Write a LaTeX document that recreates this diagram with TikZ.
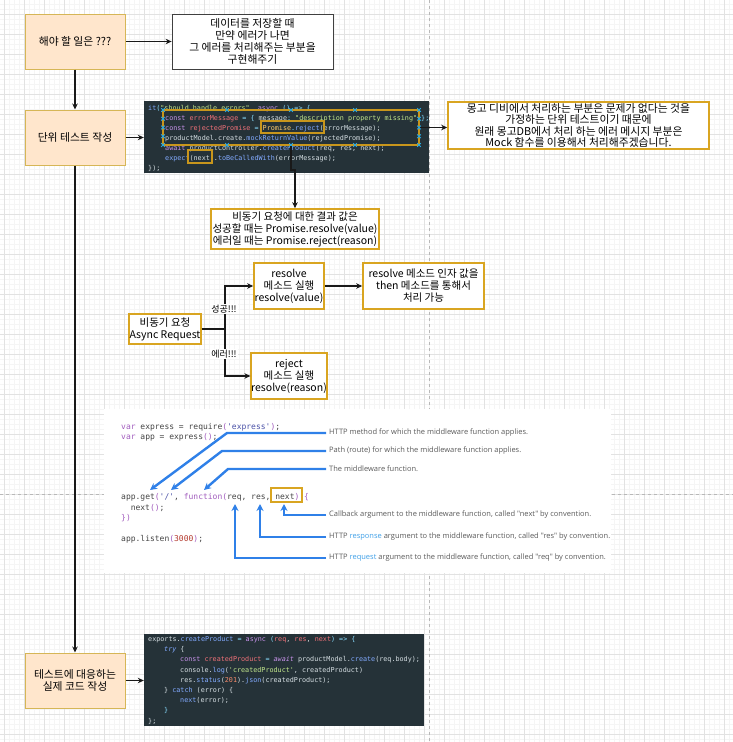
\documentclass[tikz,border=0pt]{standalone}
\usepackage{fontspec}
\setmainfont{Noto Sans CJK KR}
\setmonofont{DejaVu Sans Mono}
\newfontfamily\osans{Open Sans}
\usetikzlibrary{arrows.meta}
\definecolor{gridmaj}{HTML}{E2E2E2}
\definecolor{gridmin}{HTML}{F5F5F5}
\definecolor{pagebrk}{HTML}{B8B8B8}
\definecolor{peach}{HTML}{FFE6CC}
\definecolor{peachline}{HTML}{D6B656}
\definecolor{gold}{HTML}{D9A521}
\definecolor{codebg}{HTML}{253238}
\definecolor{ctxt}{HTML}{D5DEE2}
\definecolor{ckw}{HTML}{C792EA}
\definecolor{cvar}{HTML}{F07178}
\definecolor{cstr}{HTML}{C3E88D}
\definecolor{cfn}{HTML}{82AAFF}
\definecolor{ccls}{HTML}{FFCB6B}
\definecolor{cpun}{HTML}{89DDFF}
\definecolor{cnum}{HTML}{F78C6C}
\definecolor{handle}{HTML}{29A8E0}
\definecolor{selbox}{HTML}{C8961C}
\definecolor{eblue}{HTML}{2F80E8}
\definecolor{elight}{HTML}{3FA0E8}
\definecolor{etxt}{HTML}{444444}
\definecolor{ekw}{HTML}{A25DBE}
\definecolor{estr}{HTML}{4B52A8}
\definecolor{enum}{HTML}{B43A2E}
\definecolor{elbl}{HTML}{5A5A5A}
\newcommand\tkKw[1]{\textcolor{ckw}{#1}}
\newcommand\tkVar[1]{\textcolor{cvar}{#1}}
\newcommand\tkStr[1]{\textcolor{cstr}{#1}}
\newcommand\tkFn[1]{\textcolor{cfn}{#1}}
\newcommand\tkCls[1]{\textcolor{ccls}{#1}}
\newcommand\tkPun[1]{\textcolor{cpun}{#1}}
\newcommand\tkNum[1]{\textcolor{cnum}{#1}}
\newcommand\tkEkw[1]{\textcolor{ekw}{#1}}
\newcommand\tkEs[1]{\textcolor{estr}{#1}}
\newcommand\tkEn[1]{\textcolor{enum}{#1}}
\newcommand\tkLb[1]{\textcolor{elight}{#1}}
\begin{document}
\begin{tikzpicture}[x=1pt,y=-1pt,
  peachbox/.style={draw=peachline, fill=peach, line width=1pt, align=center, font=\fontsize{10.8}{12.5}\selectfont, inner sep=0pt},
  goldbox/.style={draw=gold, fill=white, line width=1.6pt, align=center, font=\fontsize{10.5}{12}\selectfont, inner sep=0pt},
  plainbox/.style={draw=black!75, fill=white, line width=0.8pt, align=center, font=\fontsize{10.8}{12}\selectfont, inner sep=0pt},
  arr/.style={draw=black!90, line width=1.1pt, -{Stealth[length=6pt,width=5.5pt]}},
  codebox/.style={fill=codebg, draw=none, inner sep=0pt},
  cl/.style={anchor=base west, inner sep=0pt, text=ctxt, font=\ttfamily\fontsize{6.75}{8}\selectfont},
  el/.style={anchor=base west, inner sep=0pt, text=etxt, font=\ttfamily\fontsize{8}{9}\selectfont},
  lbl/.style={anchor=west, inner sep=0pt, text=elbl, font=\osans\fontsize{7.5}{9}\selectfont},
  barr/.style={draw=eblue, line width=2.4pt, -{Stealth[length=7pt,width=7pt]}},
  edgelbl/.style={fill=white, inner sep=1pt, font=\fontsize{9}{10}\selectfont}]
\useasboundingbox (0,0) rectangle (733,742);
\fill[white] (0,0) rectangle (733,742);
% grid
\foreach \gx in {4,9,...,733} \draw[gridmin, line width=0.4pt] (\gx,0) -- (\gx,742);
\foreach \gy in {4,9,...,742} \draw[gridmin, line width=0.4pt] (0,\gy) -- (733,\gy);
\foreach \gx in {4,24,...,733} \draw[gridmaj, line width=0.7pt] (\gx,0) -- (\gx,742);
\foreach \gy in {14,34,...,742} \draw[gridmaj, line width=0.7pt] (0,\gy) -- (733,\gy);
% page breaks
\draw[pagebrk, dashed, line width=0.7pt, dash pattern=on 3pt off 3pt] (429,0) -- (429,742);
\draw[pagebrk, dashed, line width=0.7pt, dash pattern=on 3pt off 3pt] (0,494) -- (733,494);

% top boxes
\node[peachbox, minimum width=100pt, minimum height=55pt] (b1) at (75,41.5) {해야 할 일은 ???};
\node[plainbox, minimum width=161pt, minimum height=55pt] (b2) at (252.5,41.5) {데이터를 저장할 때\\만약 에러가 나면\\그 에러를 처리해주는 부분을\\구현해주기};
\node[peachbox, minimum width=100pt, minimum height=55pt] (b3) at (75,137.5) {단위 테스트 작성};

% code 1
\node[codebox, minimum width=285pt, minimum height=72pt] (code1) at (286.5,137) {};
\node[cl] (c1l1) at (148,110) {\tkFn{it}\tkPun{(}\tkStr{"should handle errors"}\tkPun{,} \tkKw{async} \tkPun{() => \{}};
\node[cl] (c1l2) at (165,120) {\tkKw{const} \tkVar{errorMessage} \tkPun{=} \tkPun{\{} message\tkPun{:} \tkStr{"description property missing"} \tkPun{\};}};
\node[cl] (c1l3) at (165,130) {\tkKw{const} \tkVar{rejectedPromise} \tkPun{=} \tkCls{Promise}\tkPun{.}\tkFn{reject}(errorMessage);};
\node[cl] (c1l4) at (165,140) {productModel.create.\tkFn{mockReturnValue}(rejectedPromise);};
\node[cl] (c1l5) at (165,150) {\tkKw{await} productController.\tkFn{createProduct}(req, res, next);};
\node[cl] (c1l6) at (165,160) {\tkFn{expect}(next).\tkFn{toBeCalledWith}(errorMessage);};
\node[cl] (c1l7) at (148,170) {\});};
% selection overlay
\node[draw=selbox, line width=1.3pt, minimum width=256pt, minimum height=35pt, inner sep=0pt] (sel) at (291,127.5) {};
\node[draw=selbox, line width=1.2pt, minimum width=63pt, minimum height=12pt, inner sep=0pt] (selp) at (292.5,127) {};
\node[draw=selbox, line width=1.2pt, minimum width=24pt, minimum height=13pt, inner sep=0pt] (seln) at (200,156.5) {};
\foreach \hx in {163,227,291,355,419} {
  \foreach \hy in {110,145} {
    \draw[handle, line width=0.9pt] (\hx-1.8,\hy-1.8) -- (\hx+1.8,\hy+1.8) (\hx-1.8,\hy+1.8) -- (\hx+1.8,\hy-1.8);
  }
}
\foreach \hy in {118.75,127.5,136.25} {
  \foreach \hx in {163,419} {
    \draw[handle, line width=0.9pt] (\hx-1.8,\hy-1.8) -- (\hx+1.8,\hy+1.8) (\hx-1.8,\hy+1.8) -- (\hx+1.8,\hy-1.8);
  }
}

\node[goldbox, minimum width=261pt, minimum height=47pt, font=\fontsize{10.8}{11.6}\selectfont] (b4) at (578.5,125.5) {몽고 디비에서 처리하는 부분은 문제가 없다는 것을\\가정하는 단위 테스트이기 때문에\\원래 몽고DB에서 처리 하는 에러 메시지 부분은\\Mock 함수를 이용해서 처리해주겠습니다.};
\node[goldbox, minimum width=168pt, minimum height=40pt] (b5) at (295,229) {비동기 요청에 대한 결과 값은\\성공할 때는 Promise.resolve(value)\\에러일 때는 Promise.reject(reason)};

% promise boxes
\node[goldbox, minimum width=70pt, minimum height=46pt] (b6) at (289,286) {resolve\\메소드 실행\\resolve(value)};
\node[goldbox, minimum width=121pt, minimum height=46pt] (b7) at (423.5,286) {resolve 메소드 인자 값을\\then 메소드를 통해서\\처리 가능};
\node[goldbox, minimum width=72pt, minimum height=30pt] (b8) at (165,329) {비동기 요청\\Async Request};
\node[goldbox, minimum width=70pt, minimum height=46pt] (b9) at (289,376) {reject\\메소드 실행\\resolve(reason)};

% express image
\node[fill=white, draw=none, minimum width=507pt, minimum height=164pt, inner sep=0pt] (exp) at (357.5,491) {};
\node[el] (e1) at (121,429) {\tkEkw{var} express = require\tkEkw{(}\tkEs{'express'}\tkEkw{)};};
\node[el] (e2) at (121,439) {\tkEkw{var} app = express\tkEkw{()};};
\node[el] (e3) at (121,499) {app.get\tkEkw{(}\tkEs{'/'}, \tkEkw{function}\tkEkw{(}req, res, next\tkEkw{)} \tkEkw{\{}};
\node[el] (e4) at (130.6,510) {next\tkEkw{()};};
\node[el] (e5) at (121,520) {\tkEkw{\})}};
\node[el] (e6) at (121,541) {app.listen\tkEkw{(}\tkEn{3000}\tkEkw{)};};
\node[draw=gold, line width=1.1pt, minimum width=31pt, minimum height=14pt, inner sep=0pt] (enext) at (286.5,495) {};
\node[lbl] (l1) at (329,433) {HTTP method for which the middleware function applies.};
\node[lbl] (l2) at (329,451) {Path (route) for which the middleware function applies.};
\node[lbl] (l3) at (329,469) {The middleware function.};
\node[lbl] (l4) at (329,515) {Callback argument to the middleware function, called "next" by convention.};
\node[lbl] (l5) at (329,537) {HTTP \tkLb{response} argument to the middleware function, called "res" by convention.};
\node[lbl] (l6) at (329,558) {HTTP \tkLb{request} argument to the middleware function, called "req" by convention.};
\coordinate (t1) at (150,490);
\coordinate (t2) at (171,490);
\coordinate (t3) at (204,490);
\coordinate (t4) at (284,504);
\coordinate (t5) at (260,504);
\coordinate (t6) at (235,504);
\draw[barr] ([xshift=-3pt]l1.west) -- (227,433) -- (t1);
\draw[barr] ([xshift=-3pt]l2.west) -- (222,451) -- (t2);
\draw[barr] ([xshift=-3pt]l3.west) -- (228,469) -- (t3);
\draw[barr] ([xshift=-3pt]l4.west) -| (t4);
\draw[barr] ([xshift=-3pt]l5.west) -| (t5);
\draw[barr] ([xshift=-3pt]l6.west) -| (t6);

% bottom
\node[peachbox, minimum width=100pt, minimum height=55pt] (b10) at (75,680.5) {테스트에 대응하는\\실제 코드 작성};
\node[codebox, minimum width=280pt, minimum height=92pt] (code2) at (284,680) {};
\node[cl] (c2l1) at (148,641.4) {exports.\tkFn{createProduct} \tkPun{=} \tkKw{async} \tkPun{(}\tkVar{req}, \tkVar{res}, \tkVar{next}\tkPun{) => \{}};
\node[cl] (c2l2) at (164,651.6) {\tkFn{\itshape try} \{};
\node[cl] (c2l3) at (180,661.8) {\tkKw{const} \tkVar{createdProduct} \tkPun{=} \tkKw{\itshape await} productModel.\tkFn{create}(req.body);};
\node[cl] (c2l4) at (180,672) {console.\tkFn{log}(\tkStr{'createdProduct'}, createdProduct)};
\node[cl] (c2l5) at (180,682.2) {res.\tkFn{status}(\tkNum{201}).\tkFn{json}(createdProduct);};
\node[cl] (c2l6) at (164,692.4) {\} \tkFn{catch} (error) \{};
\node[cl] (c2l7) at (180,702.6) {\tkFn{next}(error);};
\node[cl] (c2l8) at (164,712.8) {\tkPun{\}}};
\node[cl] (c2l9) at (148,723) {\};};

% connectors
\draw[arr] (b1) -- (b2);
\draw[arr] (b1) -- (b3);
\draw[arr, line width=1.4pt] (b3) -- (code1.west |- b3);
\draw[arr] (sel.east) -- (sel.east -| b4.west);
\coordinate (jog) at (291,170);
\draw[arr] (sel.south) -- (jog) -| (b5.north);
\draw[arr] (b3) -- (b10);
\draw[arr, line width=1.4pt] (b10) -- (code2.west |- b10);
\coordinate (split) at (225,329);
\draw[arr, line width=1.4pt] (b8.east) -- (split) |- (b6.west);
\draw[arr, line width=1.4pt] (split) |- (b9.west);
\draw[arr, line width=1.4pt] (b6) -- (b7);
\node[edgelbl] (ok) at (224,309) {성공!!!};
\node[edgelbl] (err) at (224,354) {에러!!!};
\end{tikzpicture}
\end{document}
